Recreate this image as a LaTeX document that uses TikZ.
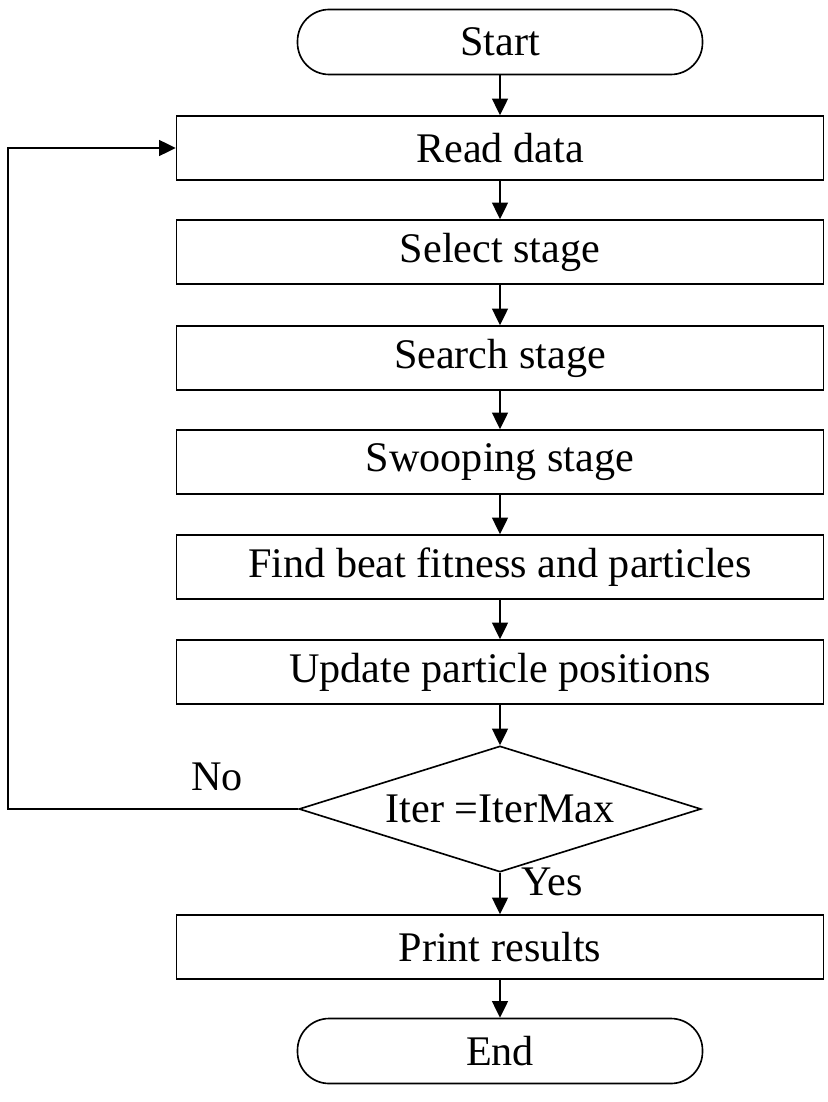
\documentclass[tikz,border=0pt]{standalone}
\usepackage{fontspec}
\setmainfont{Liberation Serif}
\usetikzlibrary{shapes.geometric,arrows.meta}

\begin{document}
\begin{tikzpicture}[
	line width=1.4pt,
	every node/.style={font=\fontsize{36}{43}\selectfont},
	proc/.style={draw,rectangle,minimum width=19.41cm,minimum height=1.92cm,inner sep=0pt},
	term/.style={draw,rectangle,rounded corners=0.95cm,minimum width=12.15cm,minimum height=1.95cm,inner sep=0pt},
	cond/.style={draw,diamond,shape aspect=3.2,minimum width=12.06cm,minimum height=3.78cm,inner sep=0pt},
	flow/.style={-{Triangle[length=0.5cm,width=0.48cm]}}
]
	\useasboundingbox (0,0) rectangle (24.81,-33.06);
	\node[term] (start) at (15,-1.26){Start};
	\node[proc] (read) at (15,-4.44){Read data};
	\node[proc] (select) at (15,-7.56){Select stage};
	\node[proc] (search) at (15,-10.74){Search stage};
	\node[proc] (swoop) at (15,-13.86){Swooping stage};
	\node[proc] (find) at (15,-17.01){Find beat fitness and particles};
	\node[proc] (update) at (15,-20.16){Update particle positions};
	\node[cond] (iter) at (15,-24.27){Iter =IterMax};
	\node[proc] (print) at (15,-28.41){Print results};
	\node[term] (end) at (15,-31.53){End};
	\coordinate (lb) at (0.24,-24.27);
	\coordinate (lt) at (0.24,-4.44);
	\foreach \a/\b in {start/read,read/select,select/search,search/swoop,swoop/find,find/update,update/iter,iter/print,print/end}
		\draw[flow] (\a) -- (\b);
	\draw[flow] (iter.west) -- (lb) -- (lt) -- (read.west);
	\node (no) at (6.51,-23.31){No};
	\node (yes) at (16.56,-26.46){Yes};
\end{tikzpicture}
\end{document}
